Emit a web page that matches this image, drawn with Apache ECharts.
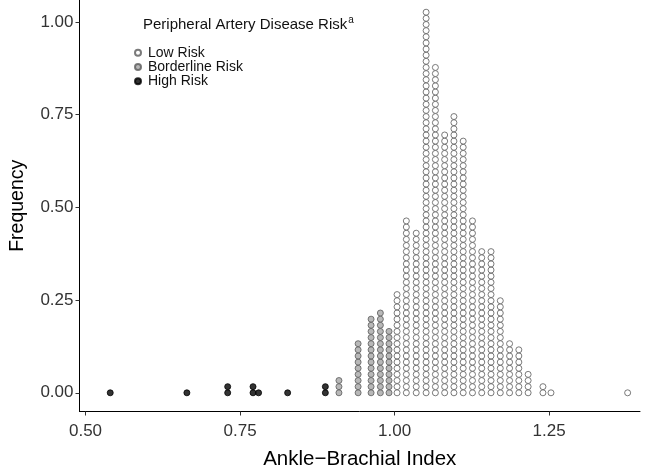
<!DOCTYPE html>
<html>
<head>
<meta charset="utf-8">
<script src="https://cdn.jsdelivr.net/npm/echarts@6/dist/echarts.min.js"></script>
<style>html,body{margin:0;padding:0;background:#fff;}#c{width:654px;height:470px;}</style>
</head>
<body>
<div id="c"></div>
<script>
// Column centres (Ankle-Brachial Index) and number of stacked dots per column
const highX = [0.540, 0.664, 0.730, 0.771, 0.780, 0.827, 0.888];
const highN = [1, 1, 2, 2, 1, 1, 2];
const borderX = [0.910, 0.941, 0.962, 0.977, 0.991];
const borderN = [3, 9, 13, 14, 11];
const lowX = [1.004, 1.019, 1.035, 1.051, 1.066, 1.081, 1.096, 1.111, 1.126, 1.141, 1.156, 1.171, 1.186, 1.201, 1.216, 1.240, 1.253, 1.377];
const lowN = [17, 29, 27, 63, 54, 43, 46, 42, 29, 24, 24, 16, 9, 8, 4, 2, 1, 1];
const xTicks = [0.50, 0.75, 1.00, 1.25];
const yTicks = [0.00, 0.25, 0.50, 0.75, 1.00];
const groupNames = ['Low Risk', 'Borderline Risk', 'High Risk'];

const STEP = 0.01655; // stacking height of one dot in frequency units
function stack(xs, ns) {
  const pts = [];
  xs.forEach((x, i) => { for (let k = 0; k < ns[i]; k++) pts.push([x, k * STEP]); });
  return pts;
}

const FONT = 'Liberation Sans, Arial, sans-serif';
const chart = echarts.init(document.getElementById('c'), null, {renderer: 'canvas'});
const axisTxt = {color: '#333', fontSize: 17, fontFamily: FONT};
chart.setOption({
  animation: false,
  backgroundColor: '#fff',
  title: {
    text: 'Peripheral Artery Disease Risk{sup|a}',
    left: 138, top: 10,
    textStyle: {
      fontSize: 15, fontWeight: 'normal', color: '#111', fontFamily: FONT,
      rich: {sup: {fontSize: 10, verticalAlign: 'top', padding: [0, 0, 9, 1], color: '#111', fontFamily: FONT}}
    }
  },
  legend: {
    orient: 'vertical', left: 134, top: 45.5, padding: 0,
    itemWidth: 6, itemHeight: 6, itemGap: 0,
    data: groupNames,
    textStyle: {fontSize: 14, color: '#111', lineHeight: 14.3, fontFamily: FONT, padding: [0, 0, 0, 2]}
  },
  grid: {left: 79.5, right: 14, top: 0, bottom: 58.5, containLabel: false, outerBoundsMode: 'none'},
  xAxis: {
    type: 'value', min: 0.4903, max: 1.397,
    name: 'Ankle\u2212Brachial Index', nameLocation: 'middle', nameGap: 37,
    nameTextStyle: {fontSize: 20.5, color: '#000', fontFamily: FONT},
    axisLine: {show: true, onZero: false, lineStyle: {color: '#000', width: 1}},
    axisTick: {show: true, length: 4, lineStyle: {color: '#333'}, customValues: xTicks},
    axisLabel: Object.assign({margin: 11, customValues: xTicks, formatter: v => v.toFixed(2)}, axisTxt),
    splitLine: {show: false}
  },
  yAxis: {
    type: 'value', min: -0.0504, max: 1.059,
    name: 'Frequency', nameLocation: 'middle', nameGap: 52,
    nameTextStyle: {fontSize: 19.5, color: '#000', fontFamily: FONT},
    axisLine: {show: true, onZero: false, lineStyle: {color: '#000', width: 1}},
    axisTick: {show: true, length: 4, lineStyle: {color: '#333'}, customValues: yTicks},
    axisLabel: Object.assign({margin: 6, customValues: yTicks, formatter: v => v.toFixed(2)}, axisTxt),
    splitLine: {show: false}
  },
  series: [
    {name: groupNames[0], type: 'scatter', symbol: 'circle', symbolSize: 6, data: stack(lowX, lowN),
     itemStyle: {color: '#fff', borderColor: '#5a5a5a', borderWidth: 1}},
    {name: groupNames[1], type: 'scatter', symbol: 'circle', symbolSize: 6, data: stack(borderX, borderN),
     itemStyle: {color: '#a6a6a6', borderColor: '#5a5a5a', borderWidth: 1}},
    {name: groupNames[2], type: 'scatter', symbol: 'circle', symbolSize: 6, data: stack(highX, highN),
     itemStyle: {color: '#000', borderColor: '#000', borderWidth: 1}}
  ]
});
</script>
</body>
</html>
